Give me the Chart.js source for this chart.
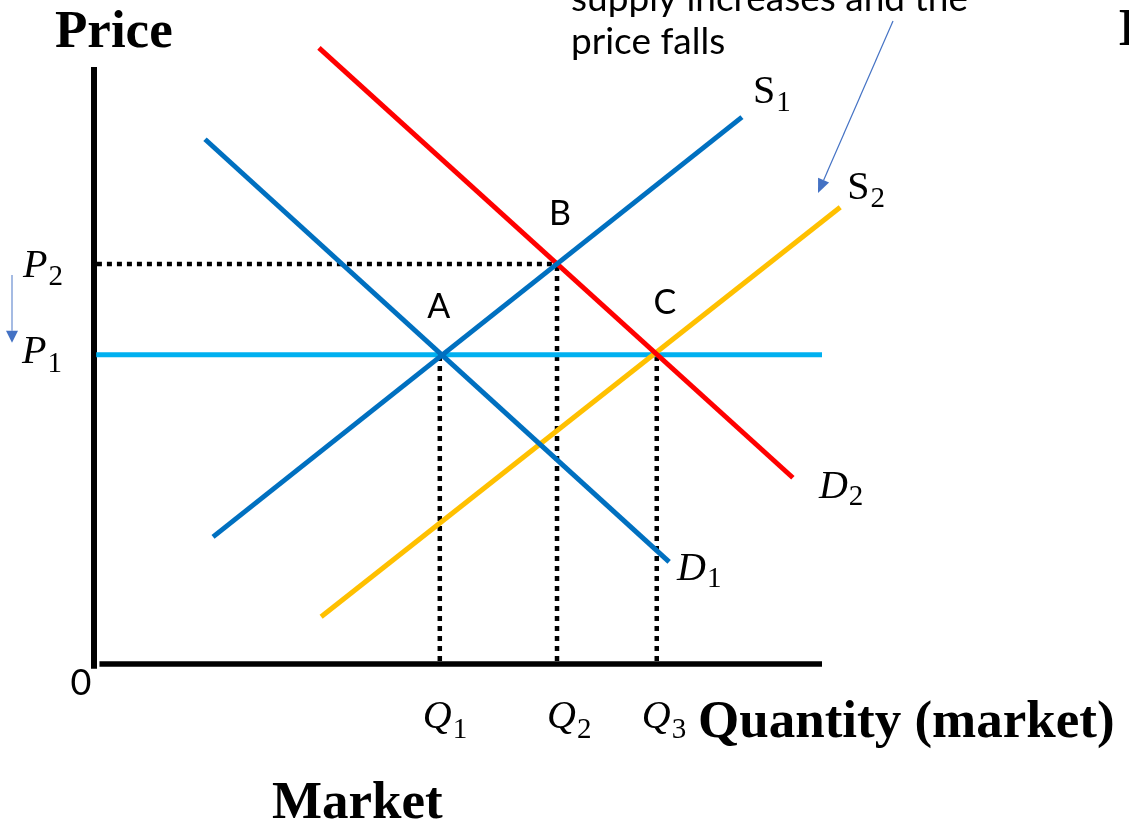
<!DOCTYPE html>
<html><head><meta charset="utf-8">
<script src="https://cdn.jsdelivr.net/npm/chart.js@4.4.0/dist/chart.umd.min.js"></script>
<style>html,body{margin:0;padding:0;background:#fff;overflow:hidden}#wrap{width:1129px;height:828px;position:relative}canvas{display:block}</style>
</head><body><div id="wrap"><canvas id="c" width="1129" height="828"></canvas></div>
<script>
// ---- data (quantity on x, price on y) ----
const s1Q = [1.635, 8.90];  const s1P = [2.13, 9.16];   // supply S1
const d1Q = [1.525, 7.90];  const d1P = [8.79, 1.71];   // demand D1
const d2Q = [3.09, 9.60];   const d2P = [10.32, 3.12];  // demand D2
const s2Q = [3.12, 10.25];  const s2P = [0.79, 7.65];   // supply S2
const priceLevels = [5.18, 6.70];          // P1, P2
const priceSubs = ['1', '2'];
const quantityLevels = [4.75, 6.36, 7.73]; // Q1, Q2, Q3
const quantitySubs = ['1', '2', '3'];
const pointNames = ['A', 'B', 'C'];
const axisMax = 10;

const pts = (xs, ys) => xs.map((x, i) => ({x: x, y: ys[i]}));
const P1 = priceLevels[0], P2 = priceLevels[1];
const [Q1, Q2, Q3] = quantityLevels;
const equilibria = [[Q1, P1], [Q2, P2], [Q3, P1]];

const lineDs = (data, color, width, order, dash) => ({
  data, borderColor: color, borderWidth: width, order,
  showLine: true, pointRadius: 0, fill: false, tension: 0,
  borderCapStyle: 'butt', borderDash: dash || [], clip: false
});
const DOT = [5, 5];
const datasets = [
  lineDs(pts(s1Q, s1P), '#0070C0', 5, 1),
  lineDs(pts(d1Q, d1P), '#0070C0', 5, 2),
  lineDs(pts(d2Q, d2P), '#FF0000', 5, 3),
  lineDs(pts(s2Q, s2P), '#FFC000', 5, 4),
  lineDs([{x: 0.03, y: P1}, {x: axisMax, y: P1}], '#00B0F0', 5, 5),
  lineDs([{x: 0.04, y: P2}, {x: Q2, y: P2}], '#000', 4.5, 6, DOT),
  lineDs([{x: Q1, y: 0.05}, {x: Q1, y: P1}], '#000', 4.5, 7, DOT),
  lineDs([{x: Q2, y: 0.05}, {x: Q2, y: P2}], '#000', 4.5, 8, DOT),
  lineDs([{x: Q3, y: 0.05}, {x: Q3, y: P1}], '#000', 4.5, 9, DOT),
  lineDs([{x: 0, y: -0.08}, {x: 0, y: axisMax}], '#000', 6, 10),
  lineDs([{x: 0.075, y: 0}, {x: axisMax, y: 0}], '#000', 5.5, 11)
];

function drawSub(ctx, main, sub, x, y, italic, subDy) {
  ctx.textAlign = 'left'; ctx.textBaseline = 'alphabetic';
  ctx.font = (italic ? 'italic ' : '') + '40px "Liberation Serif"';
  ctx.fillText(main, x, y);
  const w = ctx.measureText(main).width;
  ctx.font = '29px "Liberation Serif"';
  ctx.fillText(sub, x + w + 1, y + subDy);
}
function arrow(ctx, x1, y1, x2, y2, shaftColor, headColor, lw, hl, hw) {
  const a = Math.atan2(y2 - y1, x2 - x1);
  const bx = x2 - hl * Math.cos(a), by = y2 - hl * Math.sin(a);
  ctx.strokeStyle = shaftColor; ctx.lineWidth = lw;
  ctx.beginPath(); ctx.moveTo(x1, y1); ctx.lineTo(bx, by); ctx.stroke();
  ctx.fillStyle = headColor;
  ctx.beginPath(); ctx.moveTo(x2, y2);
  ctx.lineTo(bx + hw * Math.sin(a), by - hw * Math.cos(a));
  ctx.lineTo(bx - hw * Math.sin(a), by + hw * Math.cos(a));
  ctx.closePath(); ctx.fill();
}

const annot = {
  id: 'annot',
  afterDatasetsDraw(chart) {
    const ctx = chart.ctx, xs = chart.scales.x, ys = chart.scales.y;
    const X = v => xs.getPixelForValue(v), Y = v => ys.getPixelForValue(v);
    ctx.save();
    ctx.fillStyle = '#000';
    // curve labels near line ends
    drawSub(ctx, 'S', '1', X(s1Q[1]) + 11, Y(s1P[1]) - 14, false, 8);
    drawSub(ctx, 'S', '2', X(s2Q[1]) + 7, Y(s2P[1]) - 8, false, 8);
    drawSub(ctx, 'D', '1', X(d1Q[1]) + 8, Y(d1P[1]) + 18, true, 7);
    drawSub(ctx, 'D', '2', X(d2Q[1]) + 26, Y(d2P[1]) + 20, true, 7);
    // price labels
    drawSub(ctx, 'P', priceSubs[1], X(0) - 71, Y(P2) + 13, true, 8);
    drawSub(ctx, 'P', priceSubs[0], X(0) - 72, Y(P1) + 8, true, 9);
    // quantity labels
    const qOff = [-17, -10, -15];
    quantityLevels.forEach((q, i) => drawSub(ctx, 'Q', quantitySubs[i], X(q) + qOff[i], Y(0) + 64, true, 10));
    // equilibrium point names
    const pOff = [[-1, -37], [3, -39], [8, -41]];
    ctx.font = '34px Lato'; ctx.textAlign = 'center'; ctx.fillStyle = '#000';
    equilibria.forEach((e, i) => ctx.fillText(pointNames[i], X(e[0]) + pOff[i][0], Y(e[1]) + pOff[i][1]));
    // origin
    ctx.font = '36px Lato'; ctx.textAlign = 'center';
    ctx.fillText('0', X(0) - 13, Y(0) + 31);
    // titles
    ctx.textAlign = 'left';
    ctx.font = 'bold 53px "Liberation Serif"';
    ctx.fillText('Price', 55, 47);
    ctx.fillText('Quantity (market)', 698, 737);
    ctx.fillText('Market', 272, 818);
    ctx.fillText('I', 1118, 45);
    // annotation text
    ctx.font = '37px Lato';
    ctx.fillText('supply increases and the', 571, 11);
    ctx.fillText('price falls', 571, 54);
    // arrows
    arrow(ctx, 893, 21, 818, 193, '#4472C4', '#4472C4', 1.2, 14, 6);
    arrow(ctx, 12, Y(P2) + 11, 12, Y(P1) - 12, '#8FAADC', '#4472C4', 1.6, 12, 6);
    ctx.restore();
  }
};

new Chart(document.getElementById('c'), {
  type: 'scatter',
  data: {datasets},
  options: {
    responsive: false, animation: false, devicePixelRatio: 1,
    layout: {padding: {left: 94, right: 1129 - 822, top: 67, bottom: 828 - 664}},
    plugins: {legend: {display: false}, tooltip: {enabled: false}},
    scales: {
      x: {type: 'linear', min: 0, max: axisMax, display: false},
      y: {type: 'linear', min: 0, max: axisMax, display: false}
    }
  },
  plugins: [annot]
});
</script>
</body></html>
